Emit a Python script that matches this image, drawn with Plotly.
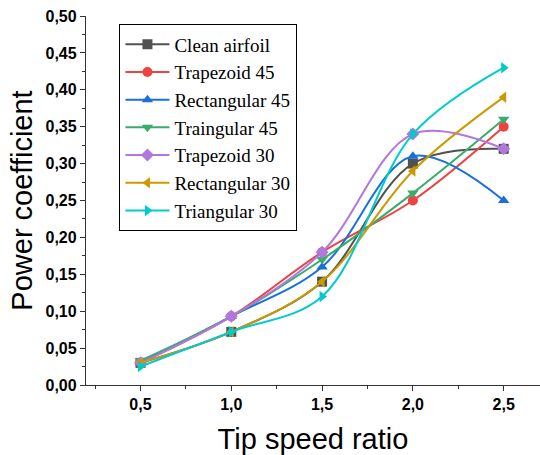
import plotly.graph_objects as go

tsr = [0.5, 1.0, 1.5, 2.0, 2.5]
series_names = ["Clean airfoil", "Trapezoid 45", "Rectangular 45", "Traingular 45",
                "Trapezoid 30", "Rectangular 30", "Triangular 30"]
clean_airfoil = [0.030, 0.072, 0.140, 0.300, 0.320]
trapezoid_45 = [0.030, 0.093, 0.180, 0.250, 0.350]
rectangular_45 = [0.030, 0.093, 0.160, 0.310, 0.250]
traingular_45 = [0.033, 0.093, 0.170, 0.260, 0.360]
trapezoid_30 = [0.030, 0.093, 0.180, 0.340, 0.320]
rectangular_30 = [0.030, 0.072, 0.140, 0.290, 0.390]
triangular_30 = [0.025, 0.072, 0.120, 0.340, 0.430]
values = [clean_airfoil, trapezoid_45, rectangular_45, traingular_45,
          trapezoid_30, rectangular_30, triangular_30]
y_ticks = [0, 0.05, 0.10, 0.15, 0.20, 0.25, 0.30, 0.35, 0.40, 0.45, 0.50]
x_ticks = [0.5, 1.0, 1.5, 2.0, 2.5]

colors = ["#515151", "#F14040", "#1A6FDF", "#37AD6B", "#B177DE", "#CC9900", "#00CBCC"]
symbols = ["square", "circle", "triangle-up", "triangle-down", "diamond",
           "triangle-left", "triangle-right"]

fig = go.Figure()
for name, vals, c, s in zip(series_names, values, colors, symbols):
    fig.add_trace(go.Scatter(
        x=tsr, y=vals, name=name, mode="lines+markers",
        line=dict(color=c, width=2, shape="spline", smoothing=1.0),
        marker=dict(color=c, symbol=s, size=10),
    ))

fig.update_layout(
    width=540, height=455,
    margin=dict(l=86, r=0, t=16, b=70),
    paper_bgcolor="white", plot_bgcolor="white",
    showlegend=True,
    legend=dict(
        x=0.073, y=0.978, xanchor="left", yanchor="top",
        bordercolor="black", borderwidth=1.3,
        font=dict(family="Liberation Serif", size=19, color="black"),
        itemwidth=44, tracegroupgap=0, bgcolor="white",
    ),
    xaxis=dict(
        range=[0.2, 2.7], tickvals=x_ticks, automargin=False,
        ticktext=[f"{v:.1f}".replace(".", ",") for v in x_ticks],
        showgrid=False, zeroline=False, showline=True, linecolor="#333", linewidth=1.3,
        ticks="outside", ticklen=5, tickcolor="#333",
        minor=dict(dtick=0.25, ticks="outside", ticklen=3, tickcolor="#333"),
        tickfont=dict(family="Liberation Sans", size=16, color="black", weight="bold"),
        title=dict(text="Tip speed ratio", font=dict(family="Liberation Sans", size=29, color="black"), standoff=18),
    ),
    yaxis=dict(
        range=[0, 0.5], tickvals=y_ticks, automargin=False,
        ticktext=[f"{v:.2f}".replace(".", ",") for v in y_ticks],
        showgrid=False, zeroline=False, showline=True, linecolor="#333", linewidth=1.3,
        ticks="outside", ticklen=5, tickcolor="#333",
        minor=dict(dtick=0.025, ticks="outside", ticklen=3, tickcolor="#333"),
        tickfont=dict(family="Liberation Sans", size=16, color="black", weight="bold"),
        title=dict(text="Power coefficient", font=dict(family="Liberation Sans", size=29, color="black"), standoff=4),
    ),
)

fig.write_html("out.html", config={"displayModeBar": False},
               post_script="document.body.style.margin='0px';")
